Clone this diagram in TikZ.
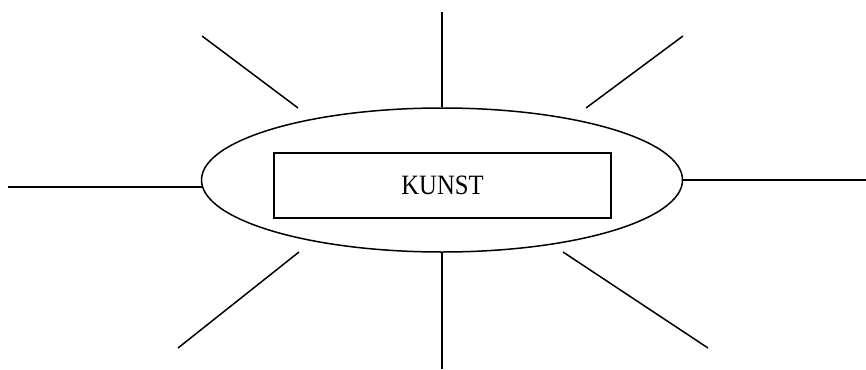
\documentclass[tikz,border=0pt]{standalone}
\usepackage{fontspec}
\setmainfont{Liberation Serif}
\usetikzlibrary{shapes.geometric}
\begin{document}
\begin{tikzpicture}[x=1pt,y=-1pt,
  ray/.style={line width=1.5pt, line cap=butt},
  oval/.style={draw, ellipse, line width=1.5pt, inner sep=0pt, minimum width=481pt, minimum height=144pt},
  box/.style={draw, rectangle, line width=1.5pt, inner sep=0pt, minimum width=337pt, minimum height=65pt, font=\fontsize{28}{30}\selectfont}]
\useasboundingbox (0,0) rectangle (866,369);
\node[oval] (e) at (442,180) {};
\node[box] (r) at (442.5,185.5) {\scalebox{0.88}[1]{KUNST}};
% free ends
\coordinate (t) at (442,12);
\coordinate (tl1) at (202,36);
\coordinate (tl2) at (298,108);
\coordinate (tr1) at (683,36);
\coordinate (tr2) at (586,108);
\coordinate (l) at (8,187);
\coordinate (lr) at (202,187);
\coordinate (rr) at (866,180);
\coordinate (bl1) at (299,252);
\coordinate (bl2) at (178,348);
\coordinate (b) at (442,369);
\coordinate (br1) at (563,252);
\coordinate (br2) at (708,348);
\draw[ray] (t) -- (e.north);
\draw[ray] (tl1) -- (tl2);
\draw[ray] (tr1) -- (tr2);
\draw[ray] (l) -- (lr);
\draw[ray] (e.east) -- (rr);
\draw[ray] (bl1) -- (bl2);
\draw[ray] (e.south) -- (b);
\draw[ray] (br1) -- (br2);
\end{tikzpicture}
\end{document}
